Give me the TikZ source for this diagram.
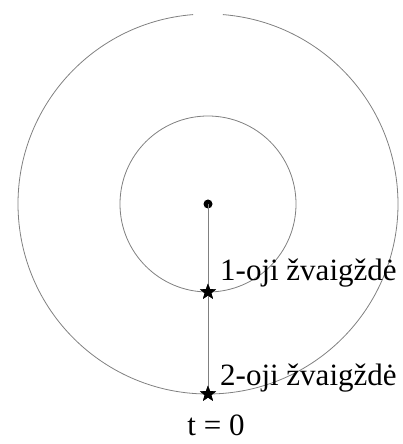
\documentclass[tikz,border=0pt]{standalone}
\usepackage{fontspec}
\setmainfont{Liberation Serif}
\usetikzlibrary{shapes.geometric}
\definecolor{orbitgray}{HTML}{808080}

\begin{document}
\begin{tikzpicture}[
    x=1pt, y=1pt,
    orbit/.style   = {draw=orbitgray, line width=0.8pt},
    center/.style  = {circle, fill=black, inner sep=0pt, minimum size=9pt},
    starmark/.style = {star, star points=5, star point ratio=2.4, fill=black,
                      inner sep=0pt, minimum size=17pt},
    lbl/.style     = {font=\fontsize{31}{36}\selectfont, anchor=base west, inner sep=0pt},
]

% fixed canvas, same margins as the reference
\useasboundingbox (-208,-240) rectangle (195,204);

% --- the two orbits ------------------------------------------------------
\draw[orbit] (0,0) circle[radius=88];
\draw[orbit] (94.5:190) arc[start angle=94.5, end angle=445.5, radius=190];

% --- centre and the two stars ---------------------------------------------
\node[center]   (mass)  at (0,0)    {};
\node[starmark] (starA) at (0,-88)  {};
\node[starmark] (starB) at (0,-190) {};
\draw[orbit] (mass.center) -- (starB.center);
\node[starmark] at (starA) {};
\node[starmark] at (starB) {};

% --- labels ---------------------------------------------------------------
\node[lbl] (lblA) at (12,-76)  {1-oji žvaigždė};
\node[lbl] (lblB) at (12,-181) {2-oji žvaigždė};
\node[lbl, anchor=base] (tzero) at (8,-231) {t = 0};

\end{tikzpicture}
\end{document}
